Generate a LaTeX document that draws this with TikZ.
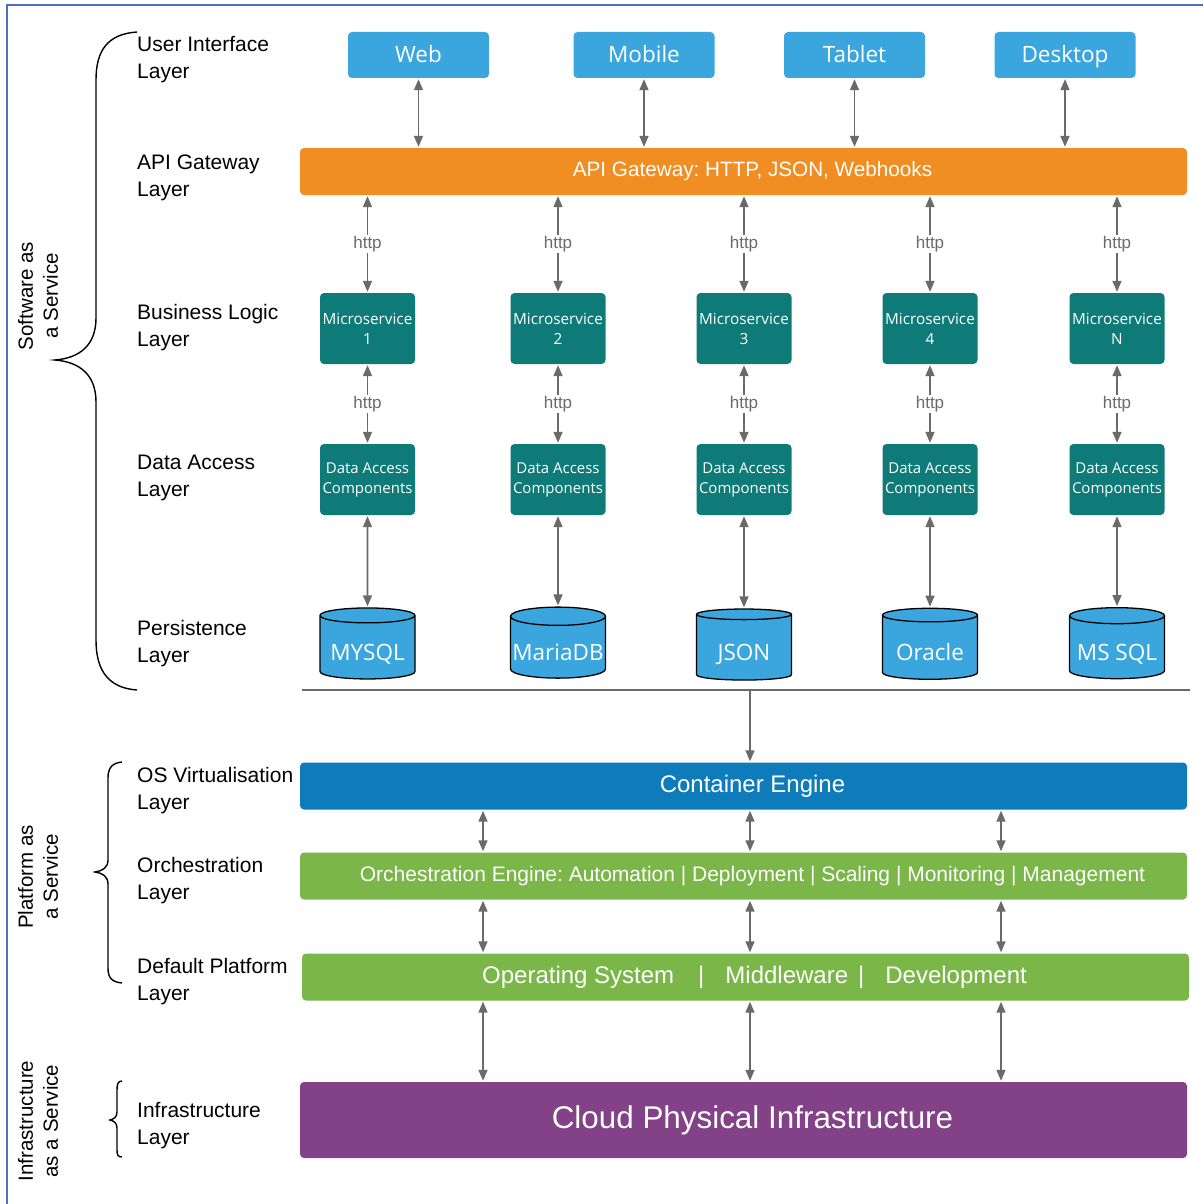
\documentclass[tikz,border=0pt]{standalone}
\usepackage{fontspec}
\setmainfont{Liberation Sans}
\newfontfamily\boxfont{Open Sans}
\usetikzlibrary{arrows.meta, shapes.geometric}
\frenchspacing

\definecolor{uiblue}{HTML}{3BA6DD}
\definecolor{apiorange}{HTML}{F08D23}
\definecolor{msteal}{HTML}{0E7B78}
\definecolor{engineblue}{HTML}{0E7BBB}
\definecolor{platgreen}{HTML}{7AB648}
\definecolor{cloudpurple}{HTML}{834187}
\definecolor{arrowgray}{HTML}{6A6A6A}
\definecolor{framecol}{HTML}{4F6EC1}

\begin{document}
\begin{tikzpicture}[x=1pt, y=-1pt,
	uibox/.style={rectangle, fill=uiblue, text=white, minimum width=141, minimum height=46, inner sep=0pt, rounded corners=4pt, text height=16pt, text depth=0pt, font=\boxfont\fontsize{22.5}{26}\selectfont},
	msbox/.style={rectangle, fill=msteal, text=white, minimum width=95, minimum height=71, inner sep=0pt, rounded corners=4pt, align=center},
	dbcyl/.style={cylinder, shape border rotate=90, aspect=0.2, draw=black, line width=1.3pt, fill=uiblue, text=white, minimum width=95, minimum height=71, inner sep=0pt, text height=26pt, text depth=0pt, font=\boxfont\fontsize{22.5}{26}\selectfont},
	bar/.style={rectangle, text=white, minimum width=887, minimum height=47, inner sep=0pt, rounded corners=4pt, execute at begin node=\hspace*{18pt}},
	layer/.style={anchor=west, align=left, inner sep=0pt, font=\fontsize{21}{27}\selectfont},
	service/.style={rotate=90, align=center, inner sep=0pt, font=\fontsize{20.5}{25}\selectfont},
	link/.style={<->, >={Triangle[length=11pt, width=9pt]}, line width=1.6pt, arrowgray, shorten <=1pt, shorten >=1pt},
	httplbl/.style={fill=white, text=arrowgray, inner sep=1.5pt, font=\fontsize{17}{20}\selectfont},
	brace/.style={line width=1.4pt, black}
	]
	
	\useasboundingbox (0,0) rectangle (1203,1204);
	
	% Marco
	\draw[framecol, line width=1.6pt] (7,1204) -- (7,5) -- (1203,5);
	
	% Interfaz de usuario
	\node[uibox] (web) at (418.5,55) {Web};
	\node[uibox] (mobile) at (644,55) {Mobile};
	\node[uibox] (tablet) at (854.5,55) {Tablet};
	\node[uibox] (desktop) at (1065,55) {Desktop};
	
	% API Gateway
	\node[bar, fill=apiorange, font=\fontsize{20.7}{24}\selectfont] (api) at (743.5,171.5) {API Gateway: HTTP, JSON, Webhooks};
	
	\draw[link] (web) -- (api.north -| web);
	\draw[link] (mobile) -- (api.north -| mobile);
	\draw[link] (tablet) -- (api.north -| tablet);
	\draw[link] (desktop) -- (api.north -| desktop);
	
	% Microservicios
	\node[msbox, font=\boxfont\fontsize{15.3}{20}\selectfont] (ms1) at (367.5,328.5) {Microservice\\1};
	\node[msbox, font=\boxfont\fontsize{15.3}{20}\selectfont] (ms2) at (558,328.5) {Microservice\\2};
	\node[msbox, font=\boxfont\fontsize{15.3}{20}\selectfont] (ms3) at (744,328.5) {Microservice\\3};
	\node[msbox, font=\boxfont\fontsize{15.3}{20}\selectfont] (ms4) at (930,328.5) {Microservice\\4};
	\node[msbox, font=\boxfont\fontsize{15.3}{20}\selectfont] (ms5) at (1117,328.5) {Microservice\\N};
	
	\draw[link] (api.south -| ms1) -- node[httplbl] {http} (ms1);
	\draw[link] (api.south -| ms2) -- node[httplbl] {http} (ms2);
	\draw[link] (api.south -| ms3) -- node[httplbl] {http} (ms3);
	\draw[link] (api.south -| ms4) -- node[httplbl] {http} (ms4);
	\draw[link] (api.south -| ms5) -- node[httplbl] {http} (ms5);
	
	% Componentes de acceso a datos
	\node[msbox, font=\boxfont\fontsize{15}{20}\selectfont] (dac1) at (367.5,479.5) {Data Access\\Components};
	\node[msbox, font=\boxfont\fontsize{15}{20}\selectfont] (dac2) at (558,479.5) {Data Access\\Components};
	\node[msbox, font=\boxfont\fontsize{15}{20}\selectfont] (dac3) at (744,479.5) {Data Access\\Components};
	\node[msbox, font=\boxfont\fontsize{15}{20}\selectfont] (dac4) at (930,479.5) {Data Access\\Components};
	\node[msbox, font=\boxfont\fontsize{15}{20}\selectfont] (dac5) at (1117,479.5) {Data Access\\Components};
	
	\draw[link] (ms1) -- node[httplbl] {http} (dac1);
	\draw[link] (ms2) -- node[httplbl] {http} (dac2);
	\draw[link] (ms3) -- node[httplbl] {http} (dac3);
	\draw[link] (ms4) -- node[httplbl] {http} (dac4);
	\draw[link] (ms5) -- node[httplbl] {http} (dac5);
	
	% Persistencia
	\node[dbcyl] (db1) at (367.5,647.5) {MYSQL};
	\node[dbcyl] (db2) at (558,647.5) {MariaDB};
	\node[dbcyl] (db3) at (744,647.5) {JSON};
	\node[dbcyl] (db4) at (930,647.5) {Oracle};
	\node[dbcyl] (db5) at (1117,647.5) {MS SQL};
	
	\draw[link] (dac1) -- (db1);
	\draw[link] (dac2) -- (db2);
	\draw[link] (dac3) -- (db3);
	\draw[link] (dac4) -- (db4);
	\draw[link] (dac5) -- (db5);
	
	% Separador
	\coordinate (sepL) at (302,690);
	\coordinate (sepM) at (750,690);
	\coordinate (sepR) at (1190,690);
	\draw[arrowgray, line width=1.2pt] (sepL) -- (sepR);
	
	% Plataforma
	\node[bar, fill=engineblue, font=\fontsize{24}{28}\selectfont] (cont) at (743.5,786) {Container Engine};
	\node[bar, fill=platgreen, font=\fontsize{21}{25}\selectfont] (orch) at (743.5,876) {Orchestration Engine: Automation | Deployment | Scaling | Monitoring | Management};
	\node[bar, fill=platgreen, font=\fontsize{24}{28}\selectfont] (plat) at (745.5,977) {Operating System\hspace{24pt}|\hspace{21pt}Middleware\hspace{10pt}|\hspace{21pt}Development};
	
	% Infraestructura
	\node[bar, fill=cloudpurple, minimum height=76, font=\fontsize{31.4}{36}\selectfont] (cloud) at (743.5,1120) {Cloud Physical Infrastructure};
	
	\draw[link, ->] (sepM) -- (cont.north -| sepM);
	
	\coordinate (colA) at (483,0);
	\coordinate (colB) at (750,0);
	\coordinate (colC) at (1001,0);
	\draw[link] (cont.south -| colA) -- (orch.north -| colA);
	\draw[link] (cont.south -| colB) -- (orch.north -| colB);
	\draw[link] (cont.south -| colC) -- (orch.north -| colC);
	\draw[link] (orch.south -| colA) -- (plat.north -| colA);
	\draw[link] (orch.south -| colB) -- (plat.north -| colB);
	\draw[link] (orch.south -| colC) -- (plat.north -| colC);
	\draw[link] (plat.south -| colA) -- (cloud.north -| colA);
	\draw[link] (plat.south -| colB) -- (cloud.north -| colB);
	\draw[link] (plat.south -| colC) -- (cloud.north -| colC);
	
	% Etiquetas de capas
	\node[layer] (lui) at (137,59.5) {User Interface\\Layer};
	\node[layer] (lapi) at (137,177.5) {API Gateway\\Layer};
	\node[layer] (lbl) at (137,327.5) {Business Logic\\Layer};
	\node[layer] (lda) at (137,477.5) {Data Access\\Layer};
	\node[layer] (lper) at (137,643.5) {Persistence\\Layer};
	\node[layer] (los) at (137,790.5) {OS Virtualisation\\Layer};
	\node[layer] (lorch) at (137,880.5) {Orchestration\\Layer};
	\node[layer] (lplat) at (137,981.5) {Default Platform\\Layer};
	\node[layer] (linf) at (137,1125.5) {Infrastructure\\Layer};
	
	% Llaves
	\draw[brace] (137,32) .. controls (108,34) and (96,50) .. (96,80) -- (96,318) .. controls (96,345) and (80,358) .. (55,360) .. controls (80,362) and (96,375) .. (96,402) -- (96,640) .. controls (96,670) and (108,688) .. (137,690);
	\draw[brace] (122,762) .. controls (112,763) and (108,768) .. (108,778) -- (108,860) .. controls (108,868) and (102,871) .. (95,872) .. controls (102,873) and (108,876) .. (108,884) -- (108,968) .. controls (108,978) and (112,982) .. (122,983);
	\draw[brace] (122,1081) .. controls (118,1081) and (117,1084) .. (117,1090) -- (117,1112) .. controls (117,1117) and (114,1119) .. (110,1120) .. controls (114,1121) and (117,1123) .. (117,1128) -- (117,1150) .. controls (117,1155) and (118,1157) .. (122,1157);
	
	% Modelos de servicio
	\node[service] (saas) at (38,296) {Software as\\a Service};
	\node[service] (paas) at (38,877) {Platform as\\a Service};
	\node[service] (iaas) at (38,1121) {Infrastructure\\as a Service};
	
\end{tikzpicture}
\end{document}
